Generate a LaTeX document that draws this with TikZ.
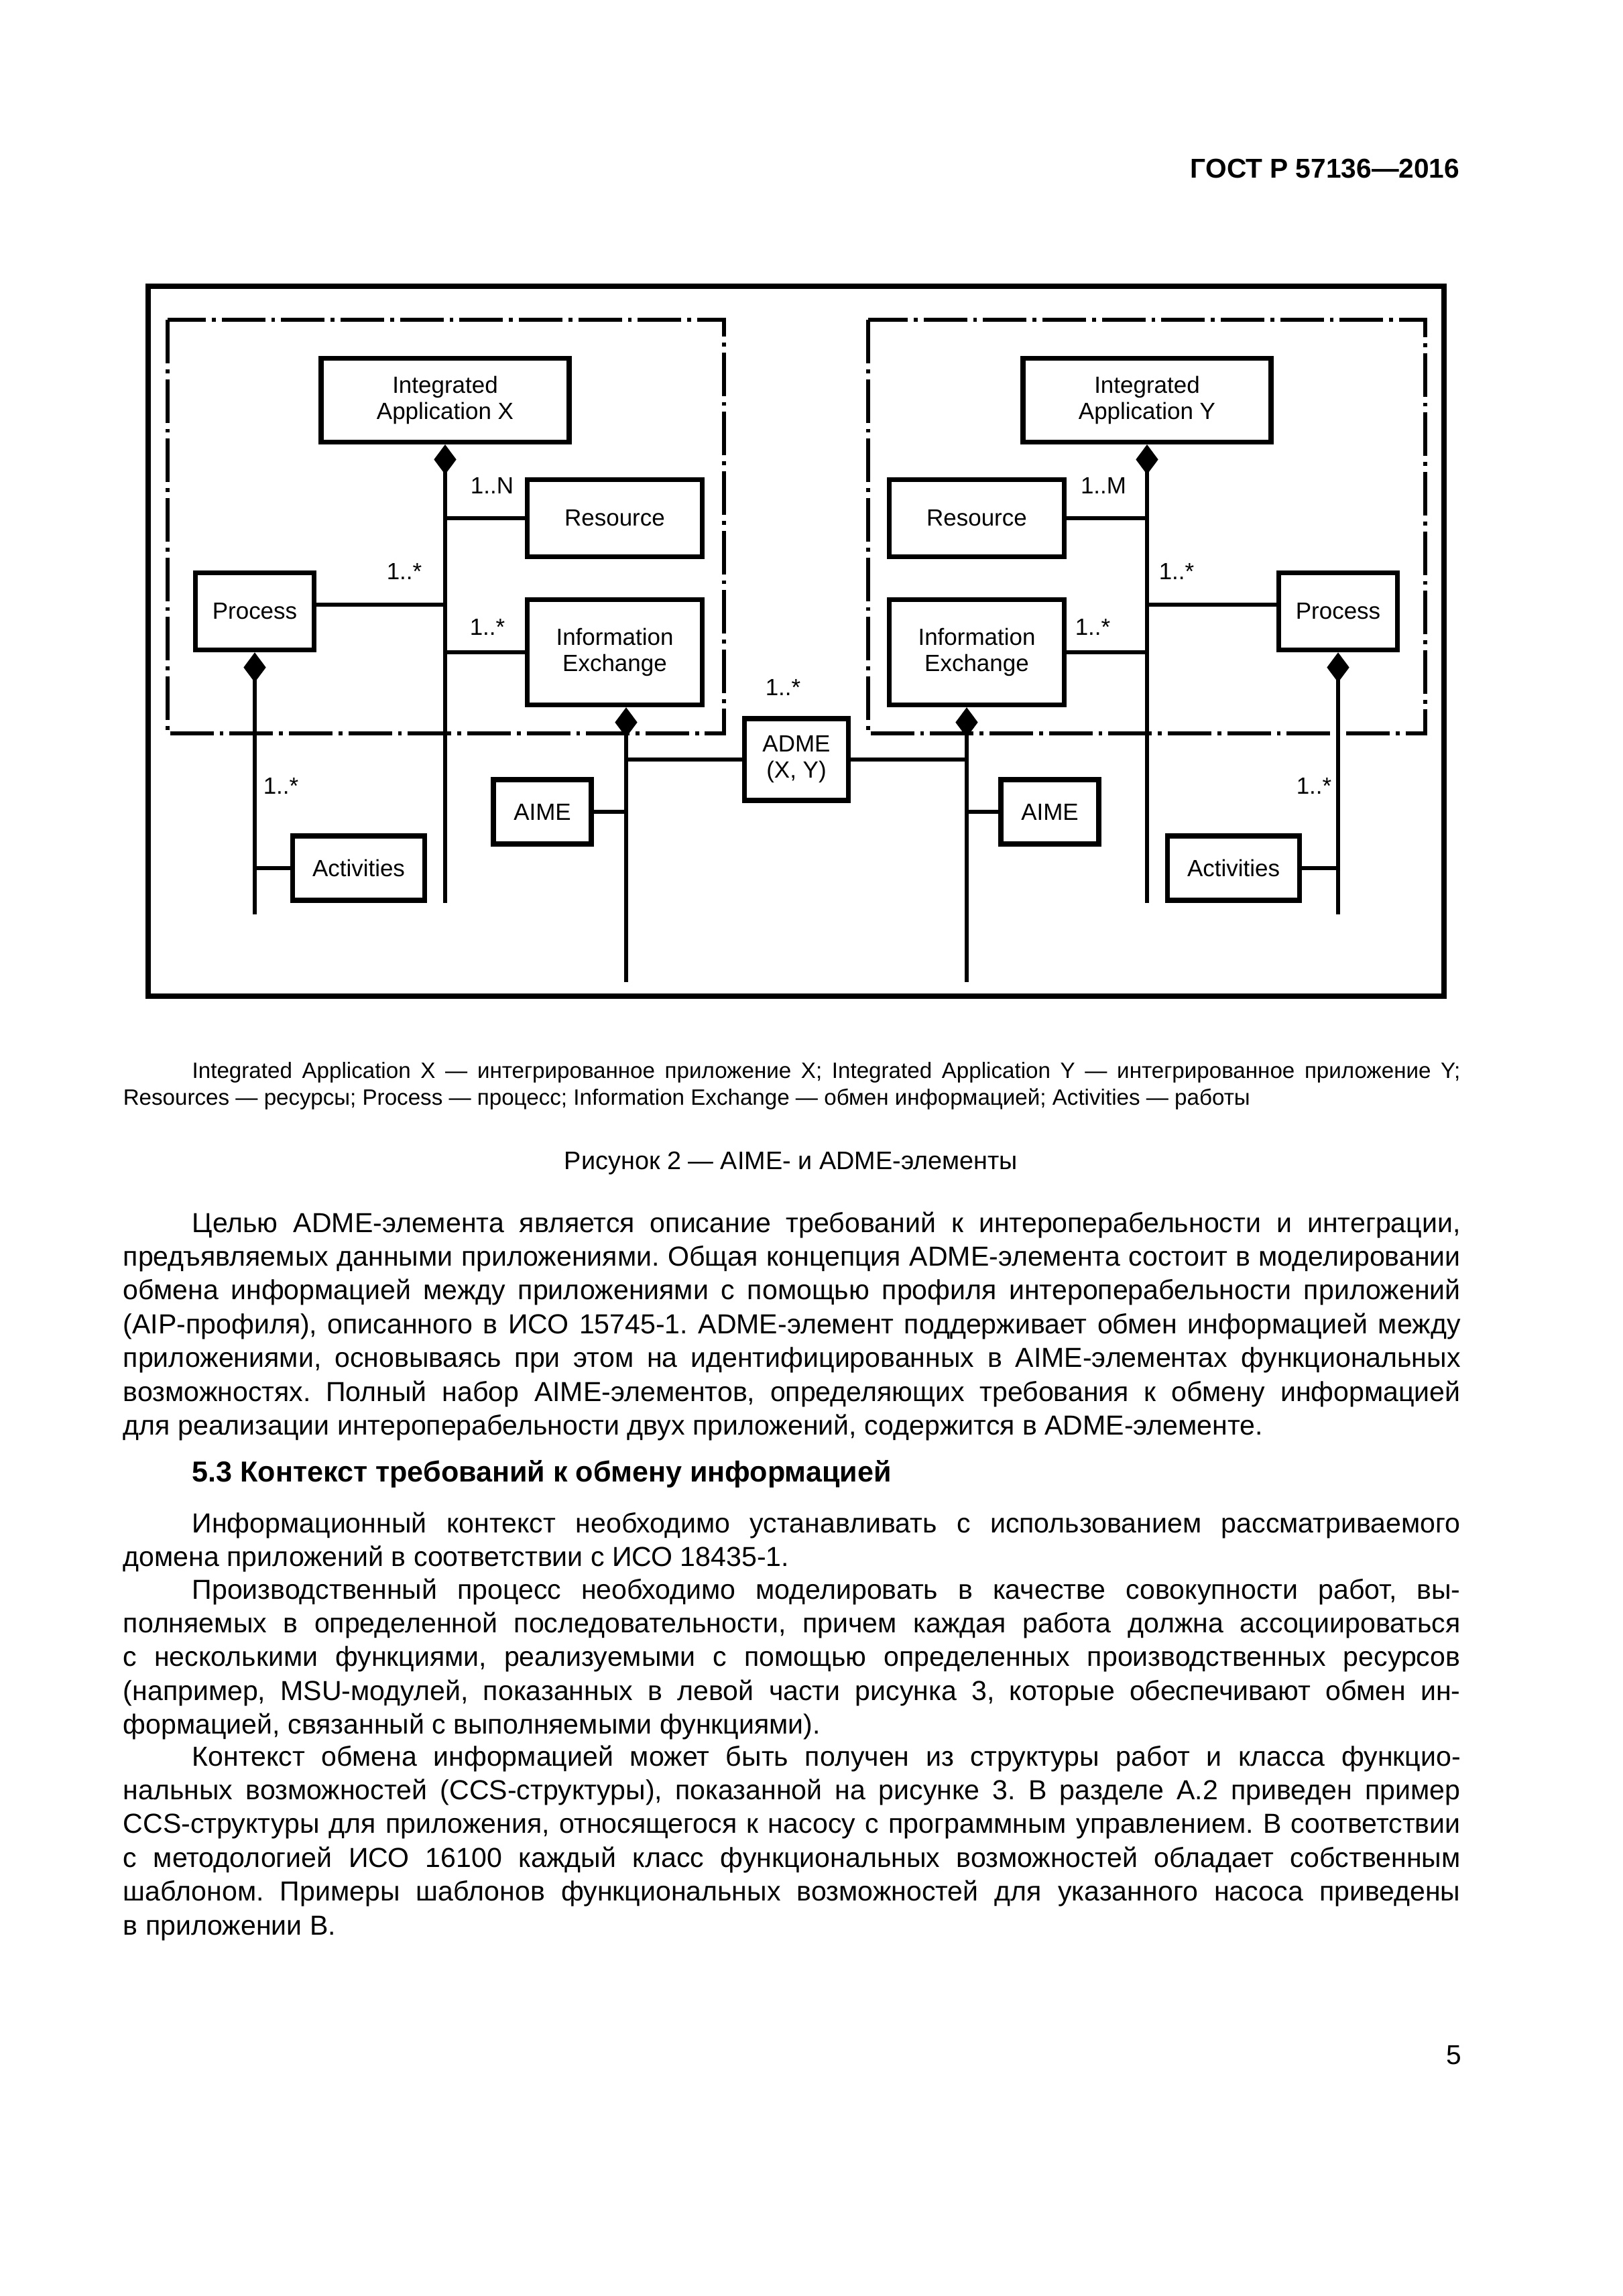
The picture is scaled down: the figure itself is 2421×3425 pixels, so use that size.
\documentclass[tikz,border=0pt]{standalone}
\usepackage{fontspec}
\setmainfont{Liberation Sans}
\usetikzlibrary{arrows.meta}

% width of the text block and the settings of a justified paragraph
\newlength{\txtw}
\setlength{\txtw}{490.5pt}
\newcommand{\jset}{\frenchspacing\spaceskip=0.278em plus 0.6em minus 0.22em\relax
  \tolerance=9999\relax\hyphenpenalty=10000\relax\hspace*{25.3pt}}

\begin{document}
\begin{tikzpicture}[x=0.24589pt, y=-0.24589pt,
  box/.style={rectangle, draw=black, line width=1.8pt, align=center,
    inner sep=0pt, font=\fontsize{8.6}{9.6}\selectfont},
  mult/.style={inner sep=0pt, font=\fontsize{8.6}{9.6}\selectfont},
  link/.style={line width=1.3pt},
  own/.style={line width=1.3pt, {Diamond[length=11pt, width=8.2pt]}-},
  group/.style={line width=1.3pt, dash pattern=on 16pt off 2.2pt on 1.4pt off 2.2pt},
  frame/.style={line width=1.8pt},
  para/.style={inner sep=0pt, text width=\txtw, align=justify,
    font=\fontsize{10.1}{12.4}\selectfont},
  capt/.style={inner sep=0pt, text width=\txtw, align=justify,
    font=\fontsize{8.15}{9.84}\selectfont},
]
\useasboundingbox (0,0) rectangle (2421,3425);

\node[anchor=east, inner sep=0pt, font=\bfseries\fontsize{10}{12}\selectfont]
  (gost) at (2178,252) {ГОСТ Р 57136—2016};

% frame and the two applications
\draw[frame] (221,427) rectangle (2154,1486);
\draw[group] (250,477) rectangle (1080,1094);
\draw[group] (1295,477) rectangle (2126,1094);

% left side
\node[box, minimum width=91pt, minimum height=30.7pt] (iax) at (664,597)
  {Integrated\\Application X};
\node[box, minimum width=64.2pt, minimum height=28.3pt] (resl) at (917,773)
  {Resource};
\node[box, minimum width=43.5pt, minimum height=28.3pt] (procl) at (380,912)
  {Process};
\node[box, minimum width=64.2pt, minimum height=38.6pt] (iel) at (917,973)
  {Information\\Exchange};
\node[box, minimum width=48.4pt, minimum height=23.6pt] (actl) at (535,1295)
  {Activities};
\node[box, minimum width=35.9pt, minimum height=23.6pt] (aimel) at (809,1211)
  {AIME};

% middle
\node[box, minimum width=38.1pt, minimum height=30pt] (adme) at (1188,1133)
  {ADME\\(X, Y)};

% right side
\node[box, minimum width=91pt, minimum height=30.7pt] (iay) at (1711,597)
  {Integrated\\Application Y};
\node[box, minimum width=64.2pt, minimum height=28.3pt] (resr) at (1457,773)
  {Resource};
\node[box, minimum width=43.5pt, minimum height=28.3pt] (procr) at (1996,912)
  {Process};
\node[box, minimum width=64.2pt, minimum height=38.6pt] (ier) at (1457,973)
  {Information\\Exchange};
\node[box, minimum width=48.4pt, minimum height=23.6pt] (actr) at (1840,1295)
  {Activities};
\node[box, minimum width=35.9pt, minimum height=23.6pt] (aimer) at (1566,1211)
  {AIME};

% free ends of the trunks
\coordinate (iaxend) at (664,1347);
\coordinate (proclend) at (380,1364);
\coordinate (ielend) at (934,1465);
\coordinate (iayend) at (1711,1347);
\coordinate (procrend) at (1996,1364);
\coordinate (ierend) at (1442,1465);

\draw[own] (iax.south) -- (iaxend);
\draw[own] (procl.south) -- (proclend);
\draw[own] (iel.south -| ielend) -- (ielend);
\draw[own] (iay.south) -- (iayend);
\draw[own] (procr.south) -- (procrend);
\draw[own] (ier.south -| ierend) -- (ierend);

\draw[link] (resl.west) -- (resl.west -| iaxend);
\draw[link] ([yshift=2.5pt]procl.east) -- ([yshift=2.5pt]procl.east -| iaxend);
\draw[link] (iel.west) -- (iel.west -| iaxend);
\draw[link] (actl.west) -- (actl.west -| proclend);
\draw[link] (aimel.east) -- (aimel.east -| ielend);
\draw[link] (adme.west) -- (adme.west -| ielend);

\draw[link] (resr.east) -- (resr.east -| iayend);
\draw[link] ([yshift=2.5pt]procr.west) -- ([yshift=2.5pt]procr.west -| iayend);
\draw[link] (ier.east) -- (ier.east -| iayend);
\draw[link] (actr.east) -- (actr.east -| procrend);
\draw[link] (aimer.west) -- (aimer.west -| ierend);
\draw[link] (adme.east) -- (adme.east -| ierend);

% multiplicities
\node[mult] (mresl) at (734,724) {1..N};
\node[mult] (mprocl) at (603,852) {1..*};
\node[mult] (miel) at (727,935) {1..*};
\node[mult] (mactl) at (419,1172) {1..*};
\node[mult] (madme) at (1168,1025) {1..*};
\node[mult] (mresr) at (1646,724) {1..M};
\node[mult] (mprocr) at (1755,852) {1..*};
\node[mult] (mier) at (1630,935) {1..*};
\node[mult] (mactr) at (1960,1172) {1..*};

% legend and title
\node[capt, anchor=base west] (legend) at (183,1608)
  {\jset Integrated Application X — интегрированное приложение X; Integrated Application Y — интегрированное приложение Y;\linebreak
   Resources — ресурсы; Process — процесс; Information Exchange — обмен информацией; Activities — работы};
\node[anchor=base, inner sep=0pt, font=\fontsize{9.3}{12}\selectfont] (figtitle) at (1180,1744)
  {Рисунок 2 — AIME- и ADME-элементы};

% text of the page
\node[para, anchor=base west] (p1) at (183,1838)
  {\jset Целью ADME-элемента является описание требований к интероперабельности и интеграции,\linebreak
   предъявляемых данными приложениями. Общая концепция ADME-элемента состоит в моделировании\linebreak
   обмена информацией между приложениями с помощью профиля интероперабельности приложений\linebreak
   (AIP-профиля), описанного в ИСО 15745-1. ADME-элемент поддерживает обмен информацией между\linebreak
   приложениями, основываясь при этом на идентифицированных в AIME-элементах функциональных\linebreak
   возможностях. Полный набор AIME-элементов, определяющих требования к обмену информацией\linebreak
   для реализации интероперабельности двух приложений, содержится в ADME-элементе.};
\node[anchor=base west, inner sep=0pt, font=\bfseries\fontsize{10.6}{12.4}\selectfont] (sec) at (286,2210)
  {5.3 Контекст требований к обмену информацией};
\node[para, anchor=base west] (p2) at (183,2286)
  {\jset Информационный контекст необходимо устанавливать с использованием рассматриваемого\linebreak
   домена приложений в соответствии с ИСО 18435-1.};
\node[para, anchor=base west] (p3) at (183,2385)
  {\jset Производственный процесс необходимо моделировать в качестве совокупности работ, вы-\linebreak
   полняемых в определенной последовательности, причем каждая работа должна ассоциироваться\linebreak
   с несколькими функциями, реализуемыми с помощью определенных производственных ресурсов\linebreak
   (например, MSU-модулей, показанных в левой части рисунка 3, которые обеспечивают обмен ин-\linebreak
   формацией, связанный с выполняемыми функциями).};
\node[para, anchor=base west] (p4) at (183,2634)
  {\jset Контекст обмена информацией может быть получен из структуры работ и класса функцио-\linebreak
   нальных возможностей (CCS-структуры), показанной на рисунке 3. В разделе А.2 приведен пример\linebreak
   CCS-структуры для приложения, относящегося к насосу с программным управлением. В соответствии\linebreak
   с методологией ИСО 16100 каждый класс функциональных возможностей обладает собственным\linebreak
   шаблоном. Примеры шаблонов функциональных возможностей для указанного насоса приведены\linebreak
   в приложении В.};

\node[anchor=east, inner sep=0pt, font=\fontsize{10}{12}\selectfont] (pagenum) at (2181,3066) {5};
\end{tikzpicture}
\end{document}
